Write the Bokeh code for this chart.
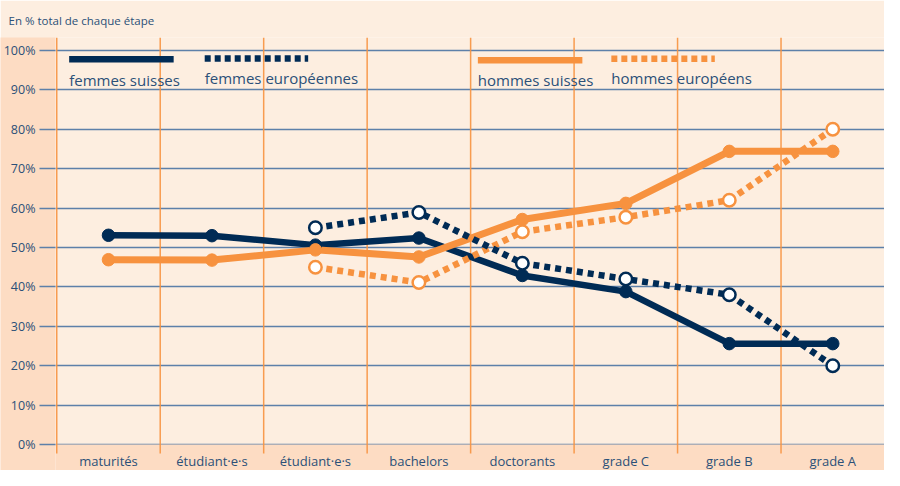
from bokeh.plotting import figure
from bokeh.models import FixedTicker, PrintfTickFormatter, Range1d, ColumnDataSource, BoxAnnotation
from bokeh.core.properties import value
from bokeh.embed import file_html
from bokeh.resources import INLINE

# ---------------- data ----------------
categories = ["maturités", "étudiant·e·s", "étudiant·e·s", "bachelors",
              "doctorants", "grade C", "grade B", "grade A"]
femmes_suisses = [53.1, 53.0, 50.6, 52.4, 42.9, 38.8, 25.6, 25.6]
hommes_suisses = [46.9, 46.8, 49.4, 47.6, 57.1, 61.2, 74.4, 74.4]
# European series start at the third category
euro_categories = categories[2:]
femmes_europeennes = [55.0, 58.9, 46.0, 42.0, 38.0, 20.0]
hommes_europeens = [45.0, 41.1, 54.0, 57.7, 62.0, 80.0]
y_ticks = [0, 10, 20, 30, 40, 50, 60, 70, 80, 90, 100]
legend_labels = ["femmes suisses", "femmes européennes", "hommes suisses", "hommes européens"]

# ---------------- style ----------------
NAVY = "#002b55"
ORANGE = "#f7923f"
LIGHT = "#fdeee0"
DARK = "#fddcc3"
GRID = "#5d80a9"
TEXT = "#2b5078"
FONT = "Open Sans"

Y_MIN, Y_MAX = -6.6, 103.3
LABEL_Y = -4.1        # category labels, inside the lower band
BOUND_Y0 = -2.3       # orange separators stop a little below 0 %

n = len(categories)
x_all = [i + 0.5 for i in range(n)]
x_euro = [i + 0.5 for i in range(n - len(euro_categories), n)]
boundaries = [float(i) for i in range(n)]

p = figure(width=884, height=470, output_backend="svg", toolbar_location=None,
           x_range=Range1d(-0.012, n), y_range=Range1d(Y_MIN, Y_MAX),
           min_border_left=48, min_border_right=0, min_border_top=0, min_border_bottom=0)
p.background_fill_color = LIGHT
p.border_fill_color = LIGHT
p.outline_line_color = None

# title
p.title.text = "En % total de chaque étape"
p.title.align = "left"
p.title.offset = -47
p.title.text_font = FONT
p.title.text_font_size = "11.5px"
p.title.text_font_style = "normal"
p.title.text_color = TEXT
p.title.standoff = 20

# y axis
p.yaxis.ticker = FixedTicker(ticks=y_ticks)
p.yaxis.formatter = PrintfTickFormatter(format="%d%%")
p.yaxis.axis_line_color = None
p.yaxis.major_tick_line_color = GRID
p.yaxis.major_tick_line_width = 1.3
p.yaxis.major_tick_out = 16
p.yaxis.major_tick_in = 0
p.yaxis.minor_tick_line_color = None
p.yaxis.major_label_standoff = 4
p.yaxis.major_label_text_font = FONT
p.yaxis.major_label_text_font_size = "12.5px"
p.yaxis.major_label_text_color = TEXT
p.yaxis.background_fill_color = DARK

# x axis hidden; category labels are drawn in the lower band
p.xaxis.visible = False
p.xgrid.visible = False

# darker band below the 0% line
p.add_layout(BoxAnnotation(top=0, fill_color=DARK, fill_alpha=1.0, line_color=None, level="underlay"))

p.ygrid.ticker = FixedTicker(ticks=y_ticks)
p.ygrid.grid_line_color = GRID
p.ygrid.grid_line_width = 1.3
p.ygrid.level = "image"

# orange column separators
p.segment(x0=boundaries, y0=[BOUND_Y0] * n, x1=boundaries, y1=[Y_MAX] * n,
          line_color=ORANGE, line_width=1.5, line_alpha=0.9)

# category labels
p.text(x=x_all, y=[LABEL_Y] * n, text=categories, text_font=value(FONT),
       text_font_size="13px", text_color=TEXT, text_align="center", text_baseline="middle")

# series
src_fs = ColumnDataSource(dict(x=x_all, y=femmes_suisses))
src_hs = ColumnDataSource(dict(x=x_all, y=hommes_suisses))
src_fe = ColumnDataSource(dict(x=x_euro, y=femmes_europeennes))
src_he = ColumnDataSource(dict(x=x_euro, y=hommes_europeens))

p.line("x", "y", source=src_fs, line_color=NAVY, line_width=6.5)
p.line("x", "y", source=src_hs, line_color=ORANGE, line_width=7)
p.line("x", "y", source=src_he, line_color=ORANGE, line_width=6.5, line_dash="6 5")
p.line("x", "y", source=src_fe, line_color=NAVY, line_width=6.5, line_dash="6 5")

p.scatter("x", "y", source=src_fs, size=12.5, fill_color=NAVY, line_color=NAVY)
p.scatter("x", "y", source=src_hs, size=12.5, fill_color=ORANGE, line_color=ORANGE)
p.scatter("x", "y", source=src_he, size=12.5, fill_color="white", line_color=ORANGE, line_width=2.5)
p.scatter("x", "y", source=src_fe, size=12.5, fill_color="white", line_color=NAVY, line_width=2.5)

# legend (line sample above its label)
leg_x0 = [0.12, 1.43, 4.07, 5.36]
leg_x1 = [1.13, 2.43, 5.08, 6.36]
leg_y = [97.8, 98.0, 97.5, 97.9]
leg_ty = [92.6, 93.1, 92.6, 93.1]
leg_colors = [NAVY, NAVY, ORANGE, ORANGE]
leg_dash = ["solid", "6 4", "solid", "6 4"]
for i in range(4):
    p.segment(x0=[leg_x0[i]], y0=[leg_y[i]], x1=[leg_x1[i]], y1=[leg_y[i]],
              line_color=leg_colors[i], line_width=6.5, line_dash=leg_dash[i], line_cap="butt")
p.text(x=leg_x0, y=leg_ty, text=legend_labels, text_font=value(FONT),
       text_font_size="15px", text_color=TEXT, text_baseline="alphabetic", text_align="left")

open("out.html", "w").write(file_html(p, INLINE))
